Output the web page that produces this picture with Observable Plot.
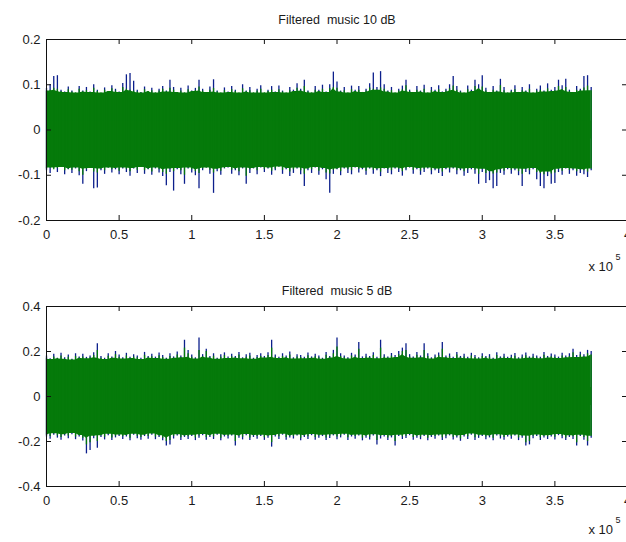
<!DOCTYPE html>
<html><head><meta charset="utf-8">
<script src="https://cdn.jsdelivr.net/npm/d3@7"></script>
<script src="https://cdn.jsdelivr.net/npm/@observablehq/plot@0.6"></script>
<style>
html,body{margin:0;padding:0;background:#fff;overflow:hidden;width:626px;height:542px}
#chart svg{display:block;max-width:none!important}
#chart text{white-space:pre}
</style></head><body><div id="chart"></div>
<script>
// sample spacing of the envelope readings (samples)
const step = 2500;
const xTicks = [0, 50000, 100000, 150000, 200000, 250000, 300000, 350000, 400000];
const topTitle = "Filtered  music 10 dB";
const botTitle = "Filtered  music 5 dB";
const topYTicks = [-0.2, -0.1, 0, 0.1, 0.2];
const botYTicks = [-0.4, -0.2, 0, 0.2, 0.4];

// envelope readings in thousandths; blue = noisy, green = filtered
const topBlueHi = [92,100,118,120,88,84,95,86,80,96, 86,94,84,100,88,80,93,84,98,90, 84,103,122,125,108,88,83,95,84,92, 80,90,96,86,110,94,82,92,80,97, 86,92,110,90,82,95,111,86,80,93, 84,96,88,80,100,86,94,80,90,98, 80,88,96,84,97,86,80,94,88,102, 90,110,86,80,96,88,99,84,100,128, 106,86,94,80,97,88,96,82,90,102, 126,94,129,100,86,94,80,90,97,110, 88,82,96,86,99,80,94,88,98,84, 90,100,118,96,86,80,97,88,110,100, 120,92,82,96,86,112,94,80,88,98, 82,94,86,100,80,90,97,86,102,88, 94,110,98,112,88,82,96,90,118,120, 94];
const topGreenHi = [86,88,92,90,85,83,89,84,82,90, 84,87,83,92,85,82,88,85,91,86, 83,94,90,88,86,84,82,89,85,87, 82,86,90,84,92,88,83,86,82,89, 85,87,95,86,83,88,92,84,82,87, 83,89,85,82,91,84,87,82,86,90, 82,85,88,83,89,84,82,87,85,92, 86,96,84,82,88,85,90,83,91,94, 92,84,87,82,89,85,88,83,86,93, 90,88,93,90,84,87,82,86,89,98, 85,83,88,84,90,82,87,85,89,83, 86,91,97,88,84,82,89,85,96,91, 95,86,83,88,84,98,87,82,85,89, 83,87,84,90,82,86,88,84,91,85, 87,96,89,94,85,83,88,86,93,97, 87];
const topBlueLo = [-90,-96,-84,-94,-82,-99,-88,-96,-86,-101, -120,-92,-84,-130,-128,-90,-98,-84,-95,-88, -99,-86,-94,-102,-86,-96,-82,-98,-88,-100, -86,-95,-103,-123,-94,-135,-88,-99,-120,-86, -95,-101,-130,-90,-84,-98,-140,-92,-100,-86, -84,-98,-90,-101,-86,-120,-96,-86,-99,-84, -94,-86,-100,-90,-82,-98,-88,-103,-96,-86, -99,-125,-90,-96,-84,-100,-88,-110,-140,-98, -88,-101,-86,-96,-99,-84,-95,-88,-100,-86, -98,-90,-103,-86,-96,-99,-86,-94,-102,-90, -84,-98,-88,-100,-94,-86,-99,-90,-96,-103, -88,-95,-86,-99,-90,-102,-96,-88,-98,-120, -94,-118,-112,-130,-125,-96,-100,-88,-98,-90, -101,-125,-94,-99,-88,-110,-125,-130,-103,-120, -118,-94,-100,-86,-98,-90,-102,-96,-99,-105, -90];
const topGreenLo = [-86,-84,-88,-85,-83,-90,-86,-89,-84,-92, -100,-87,-85,-93,-95,-86,-90,-84,-88,-85, -91,-84,-87,-92,-85,-89,-83,-90,-86,-93, -84,-88,-94,-98,-86,-92,-85,-90,-100,-84, -88,-92,-96,-86,-84,-89,-95,-87,-91,-85, -83,-89,-86,-92,-84,-102,-88,-85,-90,-83, -87,-84,-91,-86,-82,-89,-85,-93,-88,-84, -90,-98,-86,-88,-83,-91,-85,-95,-97,-89, -86,-92,-84,-88,-90,-83,-87,-85,-91,-84, -89,-86,-93,-85,-88,-90,-84,-87,-92,-86, -83,-89,-85,-91,-87,-84,-90,-86,-88,-93, -85,-87,-84,-90,-86,-92,-88,-85,-89,-98, -87,-96,-92,-97,-95,-88,-91,-85,-89,-86, -92,-98,-87,-90,-85,-94,-96,-99,-93,-97, -95,-87,-91,-85,-89,-86,-92,-88,-90,-93, -86];

const botBlueHi = [180,168,188,170,192,172,184,166,190,176, 188,174,180,194,235,178,170,190,176,200, 184,172,192,175,186,180,170,196,178,188, 175,193,182,170,190,176,198,180,250,205, 184,172,260,186,210,178,190,170,186,194, 176,188,178,196,172,186,192,170,182,190, 178,194,250,184,174,190,180,198,172,186, 182,174,193,176,188,180,170,196,178,205, 260,190,180,172,192,184,240,176,188,178, 194,174,250,186,176,191,182,200,215,235, 186,176,196,180,235,190,172,184,193,240, 180,189,175,196,178,188,174,192,182,172, 190,178,186,170,194,176,188,174,183,191, 172,184,193,176,188,180,174,196,178,189, 184,175,192,180,190,210,182,197,186,205, 200];
const botGreenHi = [170,165,176,168,180,166,174,162,178,170, 176,168,172,182,205,170,165,179,170,186, 174,167,180,169,176,172,165,183,171,177, 169,181,173,166,178,170,185,172,215,190, 174,167,205,176,200,171,179,166,175,182, 169,177,171,184,168,175,180,166,173,178, 171,182,215,174,169,178,172,185,167,176, 173,168,181,170,177,172,166,183,171,190, 220,178,172,167,180,174,210,169,176,171, 182,168,215,175,170,179,173,186,200,205, 176,170,183,172,205,178,167,174,181,210, 172,177,169,184,171,176,168,180,173,167, 178,171,175,166,182,170,176,169,173,179, 167,174,181,170,176,172,168,183,171,177, 174,169,180,172,178,195,173,184,176,190, 185];
const botBlueLo = [-180,-190,-172,-185,-194,-176,-188,-170,-192,-180, -198,-255,-240,-188,-230,-182,-193,-174,-196,-184, -178,-191,-180,-197,-172,-188,-194,-178,-190,-172, -192,-182,-197,-220,-215,-189,-176,-195,-182,-191, -178,-196,-186,-174,-194,-182,-191,-172,-197,-180, -189,-176,-220,-185,-193,-174,-196,-182,-190,-178, -195,-186,-225,-180,-191,-172,-194,-184,-189,-176, -197,-182,-191,-174,-194,-186,-178,-196,-187,-175, -192,-184,-172,-195,-180,-190,-176,-197,-186,-193, -176,-215,-189,-180,-196,-184,-220,-178,-191,-187, -174,-194,-185,-192,-178,-197,-182,-190,-176,-195, -188,-175,-193,-184,-199,-180,-191,-172,-195,-186, -178,-192,-184,-197,-175,-189,-194,-180,-190,-176, -196,-186,-220,-215,-188,-178,-195,-184,-191,-180, -193,-174,-188,-196,-182,-191,-220,-178,-194,-220, -186];
const botGreenLo = [-172,-178,-166,-175,-182,-170,-176,-164,-180,-173, -185,-215,-205,-177,-200,-174,-181,-168,-184,-176, -171,-179,-173,-185,-168,-177,-182,-172,-178,-167, -180,-174,-185,-200,-195,-177,-170,-183,-175,-179, -172,-184,-176,-169,-182,-174,-179,-168,-185,-173, -177,-171,-200,-175,-181,-169,-184,-174,-178,-172, -183,-176,-205,-173,-179,-168,-182,-175,-177,-171, -185,-174,-179,-169,-182,-176,-172,-184,-177,-170, -180,-175,-168,-183,-173,-178,-171,-185,-176,-181, -170,-195,-177,-173,-184,-175,-200,-172,-179,-177, -169,-182,-176,-180,-172,-185,-174,-178,-171,-183, -177,-170,-181,-175,-188,-173,-179,-167,-183,-176, -172,-180,-175,-185,-170,-177,-182,-173,-178,-171, -184,-176,-205,-200,-177,-171,-183,-175,-179,-173, -181,-169,-177,-184,-174,-179,-205,-172,-182,-200, -177];

const BLUE = "#0c1f8c";
const GREEN = "#057a0a";
const FONT = "'Liberation Sans', Arial, sans-serif";

function panel({title, yDomain, yTicks, bHi, bLo, gHi, gLo, height, marginTop, marginBottom, titleDy, expDy}) {
  const rows = bHi.map((_, i) => ({x: i * step, bHi: bHi[i] / 1000, bLo: bLo[i] / 1000, gHi: gHi[i] / 1000, gLo: gLo[i] / 1000}));
  const plotH = height - marginTop - marginBottom;
  const ty = (yDomain[1] - yDomain[0]) * 5 / plotH;
  const tx = 4e5 * 5 / 581;
  const overlap = (yDomain[1] - yDomain[0]) * 0.05;
  return Plot.plot({
    width: 640, height, marginLeft: 46, marginRight: 13, marginTop, marginBottom,
    style: {fontFamily: FONT, fontSize: "13px", color: "#1a1a1a", background: "#fff", maxWidth: "none"},
    x: {domain: [0, 4e5]},
    y: {domain: yDomain},
    marks: [
      Plot.ruleX(rows, {x: "x", y1: "bLo", y2: "bHi", stroke: BLUE, strokeWidth: 1.3}),
      Plot.areaY(rows, Plot.windowY({k: 3, reduce: "min"}, {x: "x", y1: () => -overlap, y2: "gHi", fill: GREEN})),
      Plot.areaY(rows, Plot.windowY({k: 3, reduce: "max"}, {x: "x", y1: "gLo", y2: () => overlap, fill: GREEN})),
      Plot.ruleX(rows, {x: "x", y1: "gLo", y2: "gHi", stroke: GREEN, strokeWidth: 1.3}),
      Plot.ruleX(xTicks, {x: d => d, y1: yDomain[0], y2: yDomain[0] + ty, stroke: "#111"}),
      Plot.ruleX(xTicks, {x: d => d, y1: yDomain[1], y2: yDomain[1] - ty, stroke: "#111"}),
      Plot.ruleY(yTicks, {y: d => d, x1: 0, x2: tx, stroke: "#111"}),
      Plot.ruleY(yTicks, {y: d => d, x1: 4e5 - tx, x2: 4e5, stroke: "#111"}),
      Plot.frame({stroke: "#111"}),
      Plot.axisX({ticks: xTicks, tickSize: 0, tickPadding: 9, tickFormat: d => String(d / 1e5), label: null, fontSize: 13}),
      Plot.axisY({ticks: yTicks, tickSize: 0, tickPadding: 6, tickFormat: d => String(d), label: null, fontSize: 13}),
      Plot.text([title], {text: d => d, frameAnchor: "top", dy: titleDy, fontSize: 12.5, fill: "#1a1a1a"}),
      Plot.text(["x 10"], {text: d => d, frameAnchor: "bottom-right", dx: -39, dy: expDy, textAnchor: "start", fontSize: 13, fill: "#1a1a1a"}),
      Plot.text(["5"], {text: d => d, frameAnchor: "bottom-right", dx: -12, dy: expDy - 11, textAnchor: "start", fontSize: 9, fill: "#1a1a1a"})
    ]
  });
}

const chart = document.getElementById("chart");
chart.append(panel({title: topTitle, yDomain: [-0.2, 0.2], yTicks: topYTicks,
  bHi: topBlueHi, bLo: topBlueLo, gHi: topGreenHi, gLo: topGreenLo,
  height: 279, marginTop: 39, marginBottom: 59, titleDy: -24, expDy: 50}));
chart.append(panel({title: botTitle, yDomain: [-0.4, 0.4], yTicks: botYTicks,
  bHi: botBlueHi, bLo: botBlueLo, gHi: botGreenHi, gLo: botGreenLo,
  height: 263, marginTop: 27, marginBottom: 56, titleDy: -20, expDy: 47}));
</script></body></html>
